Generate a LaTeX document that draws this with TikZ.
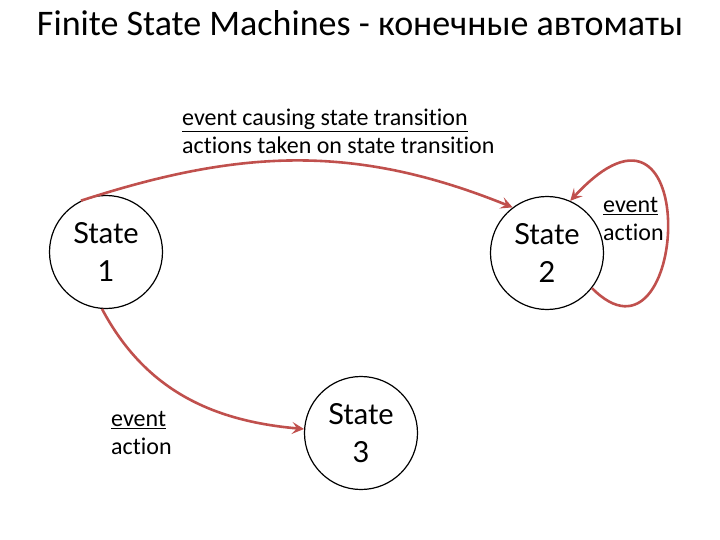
\documentclass[tikz,border=0pt]{standalone}
\usepackage{fontspec}
\setmainfont[Ligatures={NoCommon}]{Carlito}
\newfontfamily\statefont{Lato}
\usetikzlibrary{arrows.meta}
\definecolor{arrowred}{RGB}{192,80,77}
\tikzset{
  state/.style={circle,draw=black,line width=1.2pt,minimum size=113pt,inner sep=0pt,
    font=\statefont\fontsize{29}{38}\selectfont,align=center},
  trans/.style={draw=arrowred,line width=2.6pt,-{Stealth[length=12pt,width=12pt,inset=5pt]}},
  lbl/.style={font=\fontsize{24}{28}\selectfont,align=left,inner sep=0pt},
}
\begin{document}
\begin{tikzpicture}[x=1pt,y=-1pt]
\useasboundingbox (0,0) rectangle (720,540);
\node[font=\fontsize{36}{40}\selectfont] (title) at (360,23) {Finite State Machines - конечные автоматы};
\node[state] (s1) at (106,252) {State\\1};
\node[state] (s2) at (547,253) {State\\2};
\node[state] (s3) at (361,433) {State\\3};
\node[lbl,anchor=north west] (top) at (182,109) {\underline{event causing state transition}\\actions taken on state transition};
\node[lbl,anchor=north west] (l2) at (603,197) {\underline{event}\\action};
\node[lbl,anchor=north west] (l3) at (111,411) {\underline{event}\\action};
\draw[trans] (s1.116) to[out=18,in=158] (s2.127);
\draw[trans] (s2.-38) .. controls (688,385) and (705,55) .. (s2.66);
\draw[trans] (s1.-94) to[out=-62,in=175] (s3.176);
\end{tikzpicture}
\end{document}
